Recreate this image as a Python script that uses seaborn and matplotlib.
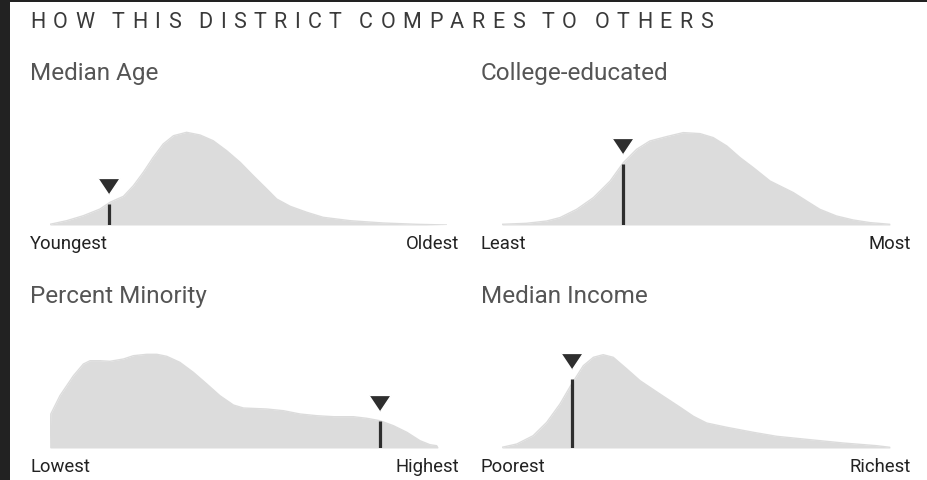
import matplotlib
matplotlib.use('Agg')
import matplotlib.pyplot as plt
from matplotlib.patches import Rectangle
from matplotlib.transforms import offset_copy
import seaborn as sns

# ============================================================
# Data
# x: position along each axis (0 = low end, 100 = high end)
# y: relative density height
# ============================================================
TITLE = 'HOW THIS DISTRICT COMPARES TO OTHERS'

age_x = [0, 4.2, 8.4, 12.6, 15.1, 18.5, 21.0, 23.5, 26.0, 28.5, 31.1, 34.4, 37.8,
         41.1, 44.5, 47.9, 51.2, 54.6, 57.1, 60.5, 64.7, 68.8, 75.6, 84.0, 92.4, 100]
age_y = [0.7, 4.3, 9.3, 16, 22.7, 28.7, 39.3, 52.7, 67.7, 81, 89.3, 92.7, 90,
         84.3, 74.3, 62.7, 49.3, 36, 26, 18.7, 12.7, 7.7, 4.3, 2, 0.7, 0]
age_district = 14.9
age_district_y = 21

college_x = [0, 6.3, 11.5, 14.9, 19.2, 23.5, 27.8, 31.2, 34.6, 38.0, 42.3, 46.6, 50.9,
             54.3, 57.8, 61.2, 64.6, 68.9, 73.2, 74.9, 78.3, 81.7, 86.0, 90.3, 94.6, 99.7]
college_y = [0.7, 1.7, 4.0, 7.4, 15.7, 27.4, 44, 62.4, 75.7, 84, 88.4, 92.4, 91.4,
             87.4, 79, 67.4, 57.4, 44, 35.7, 32.4, 24, 15.7, 9, 5, 2.4, 0.7]
college_district = 31.2
college_district_y = 61

minority_x = [0, 0.2, 2.5, 5.9, 8.4, 10.1, 12.6, 15.1, 18.5, 21.0, 24.4, 26.9, 29.4,
              32.7, 36.1, 39.5, 42.8, 46.2, 48.7, 54.6, 58.8, 63.0, 67.2, 71.4, 76.4,
              79.8, 83.1, 86.5, 89.9, 93.2, 95.7, 97.4, 97.7]
minority_y = [0, 34, 52.3, 72.3, 84, 87.3, 87.3, 86.7, 89, 92.3, 93.7, 93.7, 91.7,
              85.7, 75.7, 64, 52.3, 43, 40, 39, 37.3, 34, 32.3, 31.3, 31.3,
              29.7, 27.3, 22.3, 15.7, 7.3, 3.3, 2.3, 0]
minority_district = 83.1
minority_district_y = 27

income_x = [0, 3.8, 8.0, 11.5, 14.9, 17.9, 20.9, 23.5, 26.0, 28.6, 32.1, 35.5, 40.6,
            45.8, 49.2, 52.6, 57.8, 64.6, 70.6, 79.2, 87.7, 96.3, 99.7]
income_y = [0.7, 4, 12.3, 25.7, 44, 64, 82.3, 90.7, 93.3, 90.7, 79, 67.3, 54,
            40.7, 31.7, 25, 20.7, 15.7, 11.7, 8.3, 5, 2.3, 0.7]
income_district = 18.0
income_district_y = 69

panel_titles = ['Median Age', 'College-educated', 'Percent Minority', 'Median Income']
low_labels = ['Youngest', 'Least', 'Lowest', 'Poorest']
high_labels = ['Oldest', 'Most', 'Highest', 'Richest']

# ============================================================
# Style
# ============================================================
sns.set_theme(style='white')
plt.rcParams['font.family'] = ['Roboto', 'DejaVu Sans']

FILL = '#dcdcdc'
DARK = '#2e2e2e'
W, H = 928, 481


def fx(px):
    return px / W


def fy(py):
    return 1 - py / H


fig = plt.figure(figsize=(W / 100, H / 100), dpi=100)
fig.patch.set_facecolor('white')

# dark frame on the left and top edges
fig.add_artist(Rectangle((0, 0), fx(10), 1, transform=fig.transFigure,
                         color='#222222', lw=0))
fig.add_artist(Rectangle((0, fy(3)), 1, 3 / H, transform=fig.transFigure,
                         color='#222222', lw=0))

# letter-spaced header, one character at a time
renderer = fig.canvas.get_renderer()
xpos = 30
for ch in TITLE:
    if ch == ' ':
        xpos += 10
        continue
    t = fig.text(fx(xpos), fy(28.3), ch, fontsize=15.5, color='#3a3a3a',
                 va='baseline', ha='left')
    xpos += t.get_window_extent(renderer).width + 7.5

# ============================================================
# Panels
# ============================================================
panels = [
    (age_x, age_y, age_district, age_district_y),
    (college_x, college_y, college_district, college_district_y),
    (minority_x, minority_y, minority_district, minority_district_y),
    (income_x, income_y, income_district, income_district_y),
]
# (axis left px, axis width px, baseline px, text left px, text right px)
frames = [
    (50, 397, 226, 30, 459),
    (502, 389, 226, 481, 911),
    (50, 397, 449, 30, 459),
    (502, 389, 449, 481, 911),
]
tri = [(-1, 0.75), (1, 0.75), (0, -0.75)]

for i, ((xs, ys, xd, yd), (left, width, base, tl, tr)) in enumerate(zip(panels, frames)):
    ax = fig.add_axes([fx(left), fy(base), width / W, 100 / H])
    ax.fill_between(xs, 0, ys, color=FILL, lw=0)
    sns.lineplot(x=xs, y=ys, color=FILL, lw=1, sort=False, ax=ax)
    ax.vlines(xd, 0, yd, color=DARK, lw=2.3)
    ax.plot([xd], [yd], marker=tri, ms=15.5, color=DARK, mec='white', mew=1.0,
            clip_on=False,
            transform=offset_copy(ax.transData, fig=fig, y=18 * 0.72, units='points'))
    ax.set_xlim(0, 100)
    ax.set_ylim(0, 100)
    ax.axis('off')

    fig.text(fx(tl), fy(base - 146), panel_titles[i], fontsize=17.5,
             color='#555555', va='baseline', ha='left')
    fig.text(fx(tl), fy(base + 23), low_labels[i], fontsize=13.3,
             color='#222222', va='baseline', ha='left')
    fig.text(fx(tr), fy(base + 23), high_labels[i], fontsize=13.3,
             color='#222222', va='baseline', ha='right')

fig.savefig('out.png', dpi=100, facecolor='white')
